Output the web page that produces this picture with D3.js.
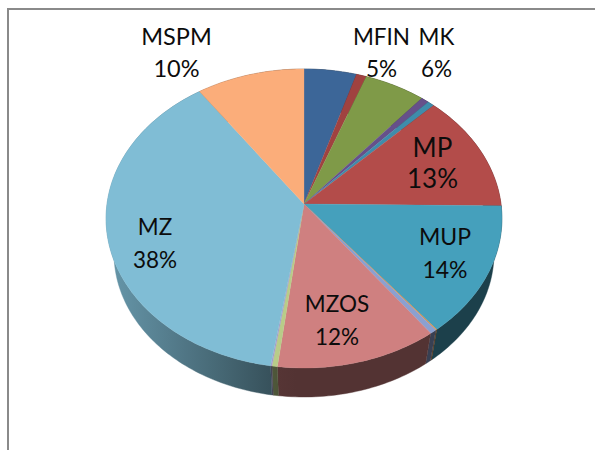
<!DOCTYPE html>
<html>
<head>
<meta charset="utf-8">
<script src="https://cdn.jsdelivr.net/npm/d3@7"></script>
<style>
html,body{margin:0;padding:0;background:#fff;}
svg{display:block;}
text{font-family:Lato,"Open Sans",sans-serif;fill:#0c0c0c;}
</style>
</head>
<body>
<svg id="chart" width="595" height="450"></svg>
<script>
// Data, clockwise from 12 o'clock. Empty names are the tiny unlabelled slices.
const categories = ["MFIN","", "MK","", "", "MP","MUP","", "", "MZOS","", "", "MZ","MSPM"];
const values     = [4.7,0.9,5.5,0.7,0.6,12.8,14.1,0.1,0.5,12.05,0.4,0.1,37.85,9.7];
const percentLabels = ["5%","","6%","","","13%","14%","","","12%","","","38%","10%"];
const colors = ["#3c6698","#a04240","#7f9a48","#66508a","#3f8cab","#b34c4a","#45a0bc",
                "#e08a3c","#8ba0d0","#cf8080","#b8cc88","#a89cc8","#80bdd5","#fbad7a"];

// Layout (separate from the data)
const center = {x:304, y:204};
const proj = {d:197, a:-148.1, c:0.097};
const ellipseMidY = 218.5;          // middle of the projected top face
const base = {scale:0.96, shift:35}; // lower rim of the wall, a smaller ellipse
const labelLayout = {
  MFIN:{x:381.5,y:44.5,gap:32,size:22.5},
  MK:{x:436.5,y:44.5,gap:32,size:22.5},
  MP:{x:432.5,y:157,gap:31,size:26},
  MUP:{x:445,y:245,gap:33,size:23},
  MZOS:{x:337,y:312,gap:32.5,size:22.5},
  MZ:{x:155,y:235,gap:33,size:22.5},
  MSPM:{x:176.5,y:44.5,gap:32,size:23.5}
};

const svg = d3.select("#chart");
const defs = svg.append("defs");

// frame
svg.append("path").attr("d","M8,450V9H595").attr("fill","none")
   .attr("stroke","#8a8a8a").attr("stroke-width",2);

const pie = d3.pie().sort(null).value(d=>d);
const arcs = pie(values);

// Perspective projection of the unit disc: angle is clockwise from the back.
function project(theta){
  const u = Math.sin(theta), v = Math.cos(theta);
  const w = 1 + proj.c*v;
  return [center.x + proj.d*u/w, center.y + proj.a*v/w];
}
function rim(a){
  const n = Math.max(2, Math.ceil((a.endAngle-a.startAngle)/0.02));
  return d3.range(n+1).map(i=>project(a.startAngle+(a.endAngle-a.startAngle)*i/n));
}
function lower(p){
  return [center.x+(p[0]-center.x)*base.scale,
          ellipseMidY+(p[1]-ellipseMidY)*base.scale+base.shift];
}
const line = d3.line();
const shade = d3.scaleLinear().domain([107,285]).range([0.8,0.4]).clamp(true);
function shaded(c,x){
  const k = shade(x), o = d3.rgb(c);
  return d3.rgb(o.r*k,o.g*k,o.b*k).formatHex();
}

// side wall
const wall = svg.append("g");
arcs.forEach((a,i)=>{
  const pts = rim(a);
  const low = pts.map(lower).reverse();
  const xs = d3.extent(pts.concat(low),p=>p[0]);
  const id = "w"+i;
  const g = defs.append("linearGradient").attr("id",id)
     .attr("gradientUnits","userSpaceOnUse")
     .attr("x1",xs[0]).attr("x2",Math.max(xs[1],xs[0]+1)).attr("y1",0).attr("y2",0);
  d3.range(9).forEach(s=>{
    const t = s/8;
    g.append("stop").attr("offset",t)
     .attr("stop-color",shaded(colors[i],xs[0]+(xs[1]-xs[0])*t));
  });
  wall.append("path").attr("d",line(pts.concat(low))+"Z")
      .attr("fill",`url(#${id})`).attr("stroke",`url(#${id})`).attr("stroke-width",0.4);
});

// top surface
const top_ = svg.append("g");
arcs.forEach((a,i)=>{
  top_.append("path").attr("d",line([[center.x,center.y]].concat(rim(a)))+"Z")
      .attr("fill",colors[i]).attr("stroke",colors[i]).attr("stroke-width",0.3);
});

// labels
categories.forEach((name,i)=>{
  if(!name) return;
  const l = labelLayout[name];
  const t = svg.append("text").attr("text-anchor","middle").attr("font-size",l.size);
  t.append("tspan").attr("x",l.x).attr("y",l.y).text(name);
  t.append("tspan").attr("x",l.x).attr("y",l.y+l.gap).text(percentLabels[i]);
});
</script>
</body>
</html>
